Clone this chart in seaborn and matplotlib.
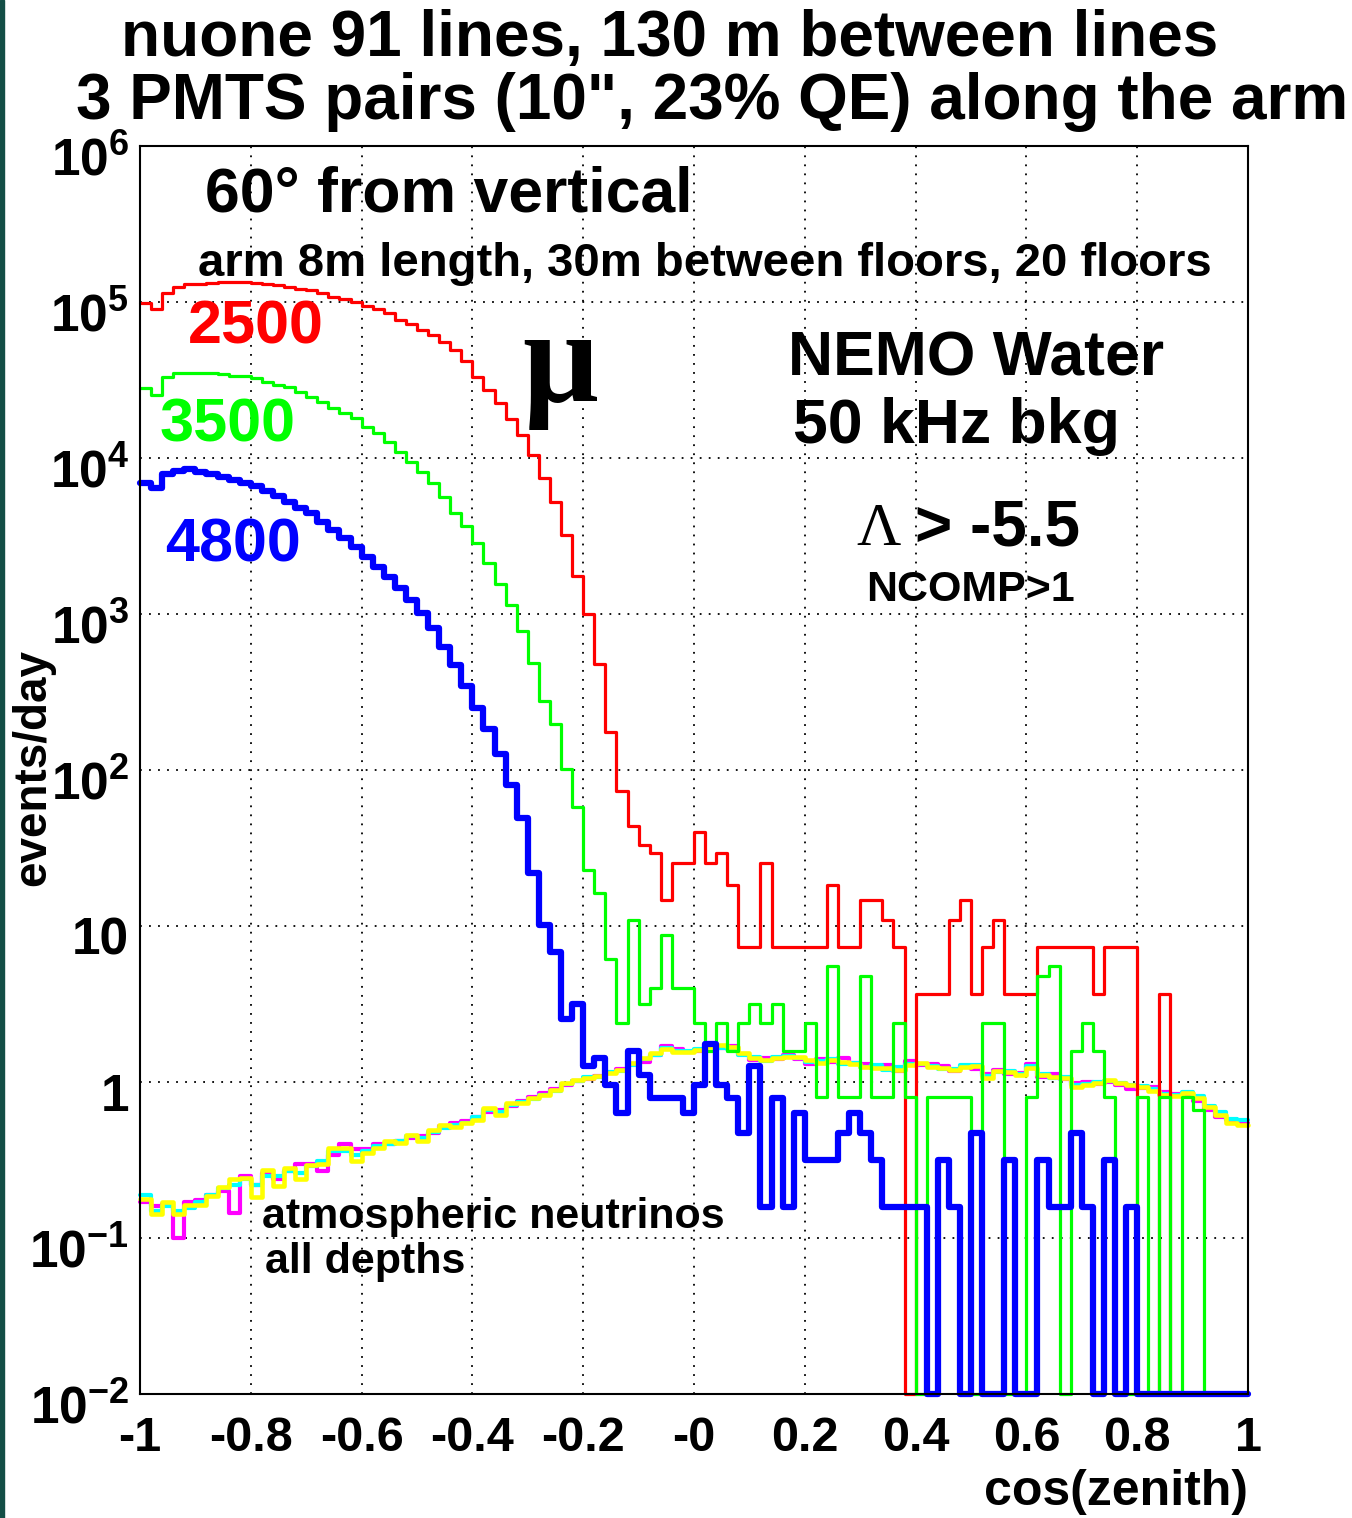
import numpy as np
import pandas as pd
import matplotlib
matplotlib.use("Agg")
import matplotlib.pyplot as plt
from matplotlib.patches import Rectangle
from matplotlib.transforms import ScaledTranslation
from matplotlib.ticker import FixedLocator, FixedFormatter, MultipleLocator, LogLocator, NullFormatter
import seaborn as sns

# ---------------- data (100 bins of cos(zenith), width 0.02) ----------------
bin_edges = np.linspace(-1.0, 1.0, 101)

red_2500 = [9.9e4, 9.0e4, 1.14e5, 1.25e5, 1.30e5, 1.30e5, 1.32e5, 1.34e5, 1.34e5, 1.34e5,
            1.32e5, 1.30e5, 1.285e5, 1.25e5, 1.21e5, 1.19e5, 1.14e5, 1.077e5, 1.045e5, 1.0e5,
            9.42e4, 9.02e4, 8.5e4, 7.67e4, 7.23e4, 6.62e4, 6.14e4, 5.55e4, 4.93e4, 4.19e4,
            3.31e4, 2.73e4, 2.25e4, 1.78e4, 1.40e4, 1.04e4, 7450, 5220, 3210, 1750,
            1000, 478, 175, 73, 43.8, 32.9, 29.2, 14.6, 25.5, 25.5,
            40.2, 25.5, 29.2, 18.3, 7.3, 7.3, 25.5, 7.3, 7.3, 7.3,
            7.3, 7.3, 18.3, 7.3, 7.3, 14.6, 14.6, 10.95, 7.3, 0,
            3.65, 3.65, 3.65, 10.95, 14.6, 3.65, 7.3, 10.95, 3.65, 3.65,
            3.65, 7.3, 7.3, 7.3, 7.3, 7.3, 3.65, 7.3, 7.3, 7.3,
            0, 0, 3.65, 0, 0, 0, 0, 0, 0, 0]

green_3500 = [2.81e4, 2.54e4, 3.31e4, 3.51e4, 3.52e4, 3.52e4, 3.51e4, 3.45e4, 3.36e4, 3.36e4,
              3.26e4, 3.07e4, 2.94e4, 2.85e4, 2.65e4, 2.46e4, 2.29e4, 2.09e4, 1.94e4, 1.80e4,
              1.58e4, 1.45e4, 1.27e4, 1.09e4, 9420, 8130, 6910, 5620, 4410, 3660,
              2850, 2120, 1560, 1140, 778, 485, 277, 197, 101, 58,
              22.9, 16.3, 6.14, 2.39, 10.9, 3.18, 3.98, 8.75, 3.98, 3.98,
              2.39, 1.59, 2.39, 1.59, 2.39, 3.18, 2.39, 3.18, 1.59, 1.59,
              2.39, 0.80, 5.57, 0.80, 0.80, 4.77, 0.80, 0.80, 2.39, 0.80,
              0, 0.80, 0.80, 0.80, 0.80, 0, 2.39, 2.39, 0, 0,
              0.80, 4.77, 5.57, 0, 1.59, 2.39, 1.59, 0.80, 0, 0,
              0.80, 0, 0.80, 0, 0.80, 0.66, 0, 0, 0, 0]

blue_4800 = [6910, 6420, 7890, 8270, 8500, 8130, 7890, 7550, 7220, 6910,
             6620, 6140, 5700, 5220, 4780, 4440, 3890, 3450, 3070, 2690,
             2320, 2000, 1730, 1470, 1230, 1010, 813, 614, 471, 345,
             249, 183, 127, 80, 49, 22, 10.1, 6.8, 2.53, 3.16,
             1.26, 1.42, 0.95, 0.63, 1.58, 1.11, 0.79, 0.79, 0.79, 0.63,
             0.95, 1.74, 0.95, 0.79, 0.47, 1.26, 0.158, 0.79, 0.158, 0.63,
             0.316, 0.316, 0.316, 0.47, 0.63, 0.47, 0.316, 0.158, 0.158, 0.158,
             0.158, 0, 0.316, 0.158, 0, 0.47, 0, 0, 0.316, 0,
             0, 0.316, 0.158, 0.158, 0.47, 0.158, 0, 0.316, 0, 0.158,
             0, 0, 0, 0, 0, 0, 0, 0, 0, 0]

nu_magenta = [0.17, 0.16, 0.165, 0.10, 0.17, 0.175, 0.19, 0.20, 0.145, 0.25,
              0.22, 0.26, 0.24, 0.27, 0.30, 0.30, 0.27, 0.34, 0.40, 0.37,
              0.37, 0.40, 0.40, 0.42, 0.44, 0.45, 0.47, 0.52, 0.55, 0.56,
              0.60, 0.64, 0.66, 0.70, 0.76, 0.80, 0.85, 0.90, 0.96, 1.02,
              1.05, 1.10, 1.15, 1.22, 1.30, 1.35, 1.48, 1.70, 1.62, 1.55,
              1.58, 1.68, 1.65, 1.70, 1.52, 1.38, 1.42, 1.40, 1.48, 1.40,
              1.30, 1.40, 1.35, 1.42, 1.32, 1.30, 1.26, 1.28, 1.17, 1.36,
              1.28, 1.30, 1.26, 1.17, 1.25, 1.22, 1.12, 1.20, 1.13, 1.15,
              1.30, 1.08, 1.12, 1.04, 0.98, 1.00, 0.97, 1.00, 0.96, 0.90,
              0.92, 0.93, 0.86, 0.84, 0.82, 0.76, 0.66, 0.60, 0.57, 0.55]

nu_cyan = [0.19, 0.15, 0.16, 0.15, 0.155, 0.17, 0.19, 0.21, 0.22, 0.24,
           0.22, 0.25, 0.25, 0.27, 0.26, 0.29, 0.31, 0.36, 0.36, 0.34,
           0.36, 0.39, 0.40, 0.42, 0.45, 0.44, 0.48, 0.51, 0.53, 0.55,
           0.60, 0.66, 0.64, 0.71, 0.74, 0.78, 0.82, 0.88, 0.97, 1.02,
           1.08, 1.07, 1.16, 1.18, 1.28, 1.40, 1.50, 1.66, 1.58, 1.58,
           1.63, 1.70, 1.66, 1.62, 1.50, 1.45, 1.36, 1.44, 1.46, 1.42,
           1.34, 1.36, 1.40, 1.31, 1.33, 1.25, 1.29, 1.20, 1.24, 1.30,
           1.31, 1.27, 1.21, 1.22, 1.28, 1.28, 1.09, 1.16, 1.18, 1.13,
           1.26, 1.13, 1.06, 1.08, 0.95, 0.97, 1.00, 1.02, 0.99, 0.96,
           0.94, 0.90, 0.84, 0.82, 0.86, 0.81, 0.70, 0.64, 0.58, 0.57]

nu_yellow = [0.178, 0.143, 0.170, 0.143, 0.162, 0.162, 0.186, 0.212, 0.239, 0.242,
             0.183, 0.273, 0.216, 0.28, 0.239, 0.293, 0.30, 0.38, 0.38, 0.31,
             0.35, 0.38, 0.42, 0.405, 0.46, 0.42, 0.49, 0.53, 0.515, 0.55,
             0.57, 0.68, 0.61, 0.73, 0.73, 0.79, 0.83, 0.89, 0.98, 1.03,
             1.06, 1.09, 1.14, 1.20, 1.33, 1.42, 1.54, 1.63, 1.56, 1.56,
             1.60, 1.67, 1.72, 1.67, 1.54, 1.42, 1.38, 1.42, 1.44, 1.44,
             1.38, 1.33, 1.38, 1.34, 1.30, 1.24, 1.23, 1.23, 1.20, 1.28,
             1.33, 1.24, 1.23, 1.20, 1.24, 1.26, 1.06, 1.18, 1.16, 1.11,
             1.23, 1.11, 1.08, 1.06, 0.93, 0.95, 0.98, 1.03, 0.98, 0.95,
             0.93, 0.88, 0.83, 0.81, 0.85, 0.79, 0.69, 0.61, 0.55, 0.53]

x_tick_values = [-1, -0.8, -0.6, -0.4, -0.2, 0, 0.2, 0.4, 0.6, 0.8, 1]
x_tick_labels = ["-1", "-0.8", "-0.6", "-0.4", "-0.2", "-0", "0.2", "0.4", "0.6", "0.8", "1"]
y_tick_values = [1e-2, 1e-1, 1, 10, 1e2, 1e3, 1e4, 1e5, 1e6]
y_tick_labels = [r"$10^{-2}$", r"$10^{-1}$", "1", "10", r"$10^{2}$", r"$10^{3}$",
                 r"$10^{4}$", r"$10^{5}$", r"$10^{6}$"]

YMIN, YMAX = 1e-2, 1e6

# ---------------- style ----------------
sns.set_style("white")
plt.rcParams["font.family"] = ["Liberation Sans", "DejaVu Sans"]
plt.rcParams["font.weight"] = "bold"
plt.rcParams["text.color"] = "black"
plt.rcParams["axes.labelcolor"] = "black"
plt.rcParams["xtick.color"] = "black"
plt.rcParams["ytick.color"] = "black"
plt.rcParams["mathtext.fontset"] = "custom"
plt.rcParams["mathtext.rm"] = "Liberation Sans:bold"
plt.rcParams["mathtext.bf"] = "Liberation Sans:bold"
plt.rcParams["mathtext.it"] = "Liberation Sans:bold:italic"
plt.rcParams["mathtext.default"] = "bf"

W, H = 1352, 1518
fig = plt.figure(figsize=(W / 100, H / 100), dpi=100)
fig.patch.set_facecolor("white")
fig.patches.append(Rectangle((0, 0), 4 / W, 1, transform=fig.transFigure,
                             color="#134e46", zorder=10))

ax = fig.add_axes([140 / W, 1 - 1394 / H, 1108 / W, 1248 / H])
ax.set_yscale("log")
ax.set_xlim(-1, 1)
ax.set_ylim(YMIN, YMAX)


def fx(px):
    return px / W


def fy(py):
    return 1 - py / H


def hist_frame(values):
    v = np.asarray(values, dtype=float)
    v = np.where(v > 0, v, YMIN)
    return pd.DataFrame({"cos": bin_edges, "rate": np.append(v, v[-1])})


series = [
    (nu_magenta, "#ff00ff", 3.0),
    (nu_cyan, "#00ffff", 3.0),
    (nu_yellow, "#ffff00", 3.3),
    (red_2500, "#ff0000", 2.3),
    (green_3500, "#00ff00", 2.3),
    (blue_4800, "#0000ff", 4.5),
]
for vals, col, lw in series:
    sns.lineplot(data=hist_frame(vals), x="cos", y="rate", ax=ax, color=col,
                 linewidth=lw, drawstyle="steps-post", estimator=None,
                 sort=False, legend=False, clip_on=False)

# ---------------- axes cosmetics ----------------
ax.xaxis.set_major_locator(FixedLocator(x_tick_values))
ax.xaxis.set_major_formatter(FixedFormatter(x_tick_labels))
ax.xaxis.set_minor_locator(MultipleLocator(0.05))
ax.yaxis.set_major_locator(FixedLocator(y_tick_values))
ax.yaxis.set_major_formatter(FixedFormatter(y_tick_labels))
ax.yaxis.set_minor_locator(LogLocator(base=10, subs=np.arange(2, 10), numticks=30))
ax.yaxis.set_minor_formatter(NullFormatter())

ax.tick_params(axis="both", which="both", direction="in", top=False, right=False,
               color="black", width=1.4, labelcolor="black")
ax.tick_params(axis="y", which="major", length=24, pad=8, labelsize=37)
ax.tick_params(axis="y", which="minor", length=12)
ax.tick_params(axis="x", which="major", length=26, pad=16, labelsize=35)
ax.tick_params(axis="x", which="minor", length=13)
shift_down = ScaledTranslation(0, -7 / 72, fig.dpi_scale_trans)
for lab in ax.get_yticklabels():
    lab.set_fontweight("bold")
    lab.set_transform(lab.get_transform() + shift_down)
for lab in ax.get_xticklabels():
    lab.set_fontweight("bold")

ax.grid(True, which="major", color="black", linestyle=(0, (1, 4)), linewidth=1.3)
ax.set_axisbelow(True)
for s in ax.spines.values():
    s.set_linewidth(1.5)
    s.set_color("black")
ax.set_xlabel("")
ax.set_ylabel("")

# ---------------- texts ----------------
fig.text(fx(670), fy(56), "nuone 91 lines, 130 m between lines", ha="center",
         va="baseline", fontsize=46, fontweight="bold")
fig.text(fx(712), fy(119), "3 PMTS pairs (10\", 23% QE) along the arm", ha="center",
         va="baseline", fontsize=46, fontweight="bold")

fig.text(fx(205), fy(212), "60° from vertical", ha="left", va="baseline",
         fontsize=45, fontweight="bold")
fig.text(fx(198), fy(276), "arm 8m length, 30m between floors, 20 floors", ha="left",
         va="baseline", fontsize=34, fontweight="bold")
fig.text(fx(188), fy(343), "2500", color="#ff0000", ha="left", va="baseline",
         fontsize=44, fontweight="bold")
fig.text(fx(160), fy(441), "3500", color="#00ff00", ha="left", va="baseline",
         fontsize=44, fontweight="bold")
fig.text(fx(165), fy(561), "4800", color="#0000ff", ha="left", va="baseline",
         fontsize=44, fontweight="bold")
fig.text(fx(522), fy(402), "μ", ha="left", va="baseline", fontsize=96,
         family=["Liberation Serif", "DejaVu Serif"], fontweight="bold")
fig.text(fx(788), fy(375), "NEMO Water", ha="left", va="baseline", fontsize=45,
         fontweight="bold")
fig.text(fx(793), fy(443), "50 kHz bkg", ha="left", va="baseline", fontsize=45,
         fontweight="bold")
fig.text(fx(856), fy(545), "Λ", ha="left", va="baseline", fontsize=44,
         family=["Liberation Serif", "DejaVu Serif"], fontweight="normal")
fig.text(fx(915), fy(545), "> -5.5", ha="left", va="baseline", fontsize=46,
         fontweight="bold")
fig.text(fx(866), fy(601), "NCOMP>1", ha="left", va="baseline", fontsize=31,
         fontweight="bold")
fig.text(fx(262), fy(1228), "atmospheric neutrinos", ha="left", va="baseline",
         fontsize=31, fontweight="bold")
fig.text(fx(265), fy(1273), "all depths", ha="left", va="baseline", fontsize=31,
         fontweight="bold")
fig.text(fx(33), fy(768), "events/day", ha="center", va="center", rotation=90,
         fontsize=33, fontweight="bold")
fig.text(fx(1248), fy(1505), "cos(zenith)", ha="right", va="baseline", fontsize=36,
         fontweight="bold")

fig.savefig("out.png", dpi=100, facecolor="white")
